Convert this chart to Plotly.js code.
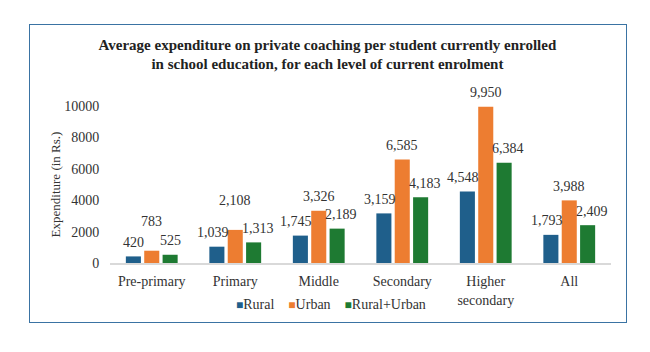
<!DOCTYPE html>
<html>
<head>
<meta charset="utf-8">
<script src="https://cdn.plot.ly/plotly-3.0.1.min.js"></script>
<style>
  html, body { margin: 0; padding: 0; background: #ffffff; }
  #wrap { position: relative; width: 650px; height: 352px; }
  #chart { width: 650px; height: 352px; }
  #frame { position: absolute; left: 29px; top: 24px; width: 596px; height: 297px;
           border: 1.5px solid #3a73a3; pointer-events: none; }
</style>
</head>
<body>
<div id="wrap">
  <div id="chart"></div>
  <div id="frame"></div>
</div>
<script>
// ---- data ----
const categories = ["Pre-primary", "Primary", "Middle", "Secondary", "Higher<br>secondary", "All"];
const seriesNames = ["Rural", "Urban", "Rural+Urban"];
const rural = [420, 1039, 1745, 3159, 4548, 1793];
const urban = [783, 2108, 3326, 6585, 9950, 3988];
const ruralUrban = [525, 1313, 2189, 4183, 6384, 2409];
const yTickVals = [0, 2000, 4000, 6000, 8000, 10000];
const yTickText = ["0", "2000", "4000", "6000", "8000", "10000"];
const titleText = "Average expenditure on private coaching per student currently enrolled<br>in school education, for each level of current enrolment";
const yTitleText = "Expenditure (in Rs.)";

// ---- styles ----
const colors = ["#1f5f8b", "#ed7d31", "#1e7a32"];
const serif = "Liberation Serif, Times New Roman, serif";
const textColor = "#333333";

const seriesValues = [rural, urban, ruralUrban];
const traces = seriesValues.map((vals, i) => ({
  type: "bar",
  name: seriesNames[i],
  x: categories,
  y: vals,
  marker: { color: colors[i] },
  hoverinfo: "skip",
  showlegend: false,
  cliponaxis: false
}));

function fmt(v) { return v.toLocaleString("en-US"); }

// data labels as annotations anchored to each bar value
const slot = 18.4; // pixel pitch between bars in a group
const annotations = [];
seriesValues.forEach((vals, s) => {
  vals.forEach((v, c) => {
    const label = fmt(v);
    let dx = (s - 1) * slot;
    if (label.length > 3) {
      if (s === 0) dx -= 4;
      if (s === 2) dx += 4;
    }
    let dy = 14;
    if (s === 1) {
      const neighbour = Math.max(rural[c], ruralUrban[c]);
      if (v - neighbour < 1000) dy += 15;
    }
    annotations.push({
      x: categories[c], y: v, xref: "x", yref: "y",
      text: label, showarrow: false,
      xshift: dx, yshift: dy, yanchor: "middle", xanchor: "center",
      font: { family: serif, size: 14, color: textColor }
    });
  });
});

// legend row (Excel style small squares directly before the names)
const legendText = seriesNames.map((n, i) =>
  "<span style=\"color:" + colors[i] + ";font-size:12px\">■</span>" + n
).join("&nbsp;&nbsp;&nbsp;&nbsp;");
annotations.push({
  xref: "paper", yref: "paper",
  x: 0.442, y: -0.265, xanchor: "center", yanchor: "middle",
  text: legendText, showarrow: false,
  font: { family: serif, size: 14, color: textColor }
});

const layout = {
  width: 650, height: 352,
  margin: { l: 110, r: 39, t: 106, b: 89.3, pad: 0 },
  paper_bgcolor: "#ffffff",
  plot_bgcolor: "#ffffff",
  title: {
    text: titleText,
    x: 0.434, xanchor: "center", xref: "paper",
    y: 0.858, yanchor: "middle", yref: "container",
    font: { family: serif, size: 15, color: "#222222", weight: "bold" }
  },
  barmode: "group",
  bargap: 0.34,
  bargroupgap: 0.18,
  showlegend: false,
  xaxis: {
    type: "category",
    showgrid: false,
    showline: true,
    linecolor: "#d9d9d9",
    linewidth: 1.5,
    ticks: "outside",
    ticklen: 5,
    tickcolor: "rgba(0,0,0,0)",
    tickfont: { family: serif, size: 14, color: textColor },
    fixedrange: true
  },
  yaxis: {
    range: [0, 10000],
    tickvals: yTickVals,
    ticktext: yTickText,
    showgrid: false,
    zeroline: false,
    showline: false,
    ticks: "outside",
    ticklen: 7,
    tickcolor: "rgba(0,0,0,0)",
    tickfont: { family: serif, size: 14, color: textColor },
    title: { text: yTitleText, standoff: 0, font: { family: serif, size: 13, color: textColor } },
    fixedrange: true
  },
  annotations: annotations
};

Plotly.newPlot("chart", traces, layout, { displayModeBar: false, staticPlot: true });
</script>
</body>
</html>
